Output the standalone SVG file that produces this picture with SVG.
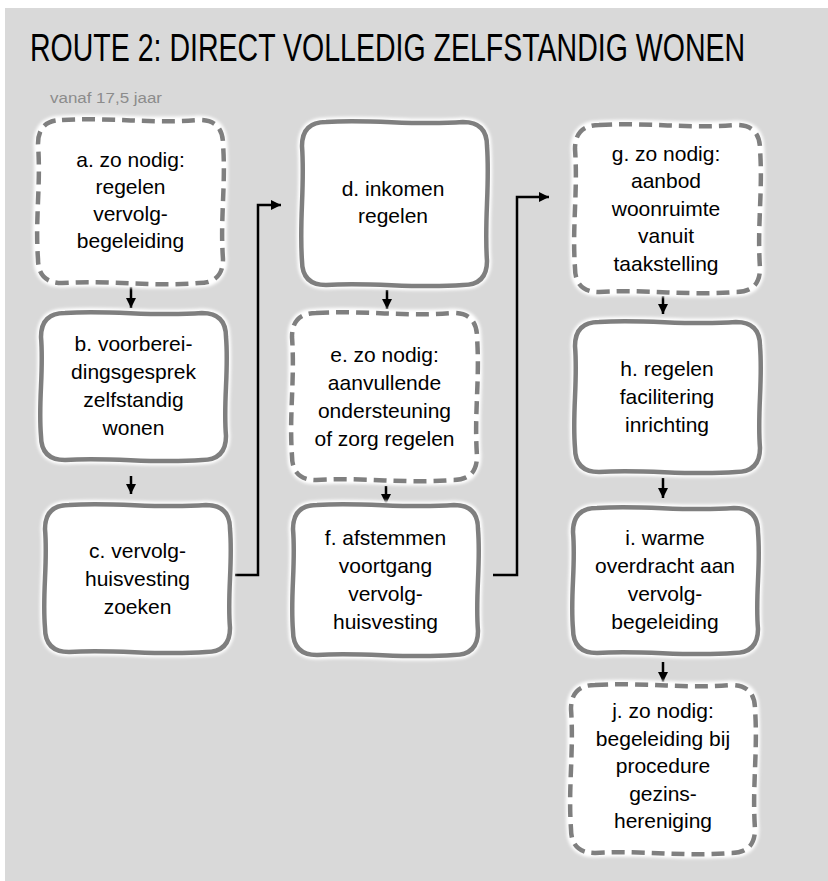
<svg xmlns="http://www.w3.org/2000/svg" xmlns:xlink="http://www.w3.org/1999/xlink" width="828" height="881" viewBox="0 0 828 881">
<style>
.bg{fill:#d9d9d9}
.halo{fill:#ffffff;stroke:#ffffff;stroke-width:9;filter:url(#blur)}
.solid{fill:#ffffff;stroke:#7f7f7f;stroke-width:4.5;stroke-linejoin:round}
.dashed{fill:#ffffff;stroke:#7f7f7f;stroke-width:4.5;stroke-dasharray:13 7;stroke-linejoin:round}
.lbl{font-family:"Liberation Sans",Arial,sans-serif;font-size:21px;fill:#000000;text-anchor:middle}
.title{font-family:"Liberation Sans",Arial,sans-serif;font-size:39px;fill:#000000}
.sub{font-family:"Liberation Sans",Arial,sans-serif;font-size:14px;fill:#8c8c8c}
.conn{fill:none;stroke:#000000;stroke-width:2.5}
</style>
<defs>
<filter id="blur" x="-10%" y="-10%" width="120%" height="120%"><feGaussianBlur stdDeviation="1.5"/></filter>
<marker id="ah" markerUnits="userSpaceOnUse" markerWidth="11" markerHeight="11" refX="10" refY="5" orient="auto">
<path d="M0,0 L10,5 L0,10 Z" fill="#000000"/>
</marker>
<path id="s163" d="M24,0 C74,-3 111,4 161,0 Q185,0 185,24 C188,65 182,98 185,139 Q185,163 161,163 C111,167 74,160 24,163 Q0,163 0,139 C-3,98 3,65 0,24 Q0,0 24,0 Z"/>
<path id="s147" d="M24,0 C74,-3 111,4 161,0 Q185,0 185,24 C188,59 182,88 185,123 Q185,147 161,147 C111,151 74,144 24,147 Q0,147 0,123 C-3,88 3,59 0,24 Q0,0 24,0 Z"/>
<path id="s167" d="M24,0 C74,-3 111,4 161,0 Q185,0 185,24 C188,67 182,100 185,143 Q185,167 161,167 C111,171 74,164 24,167 Q0,167 0,143 C-3,100 3,67 0,24 Q0,0 24,0 Z"/>
<path id="s150" d="M24,0 C74,-3 111,4 161,0 Q185,0 185,24 C188,60 182,90 185,126 Q185,150 161,150 C111,154 74,147 24,150 Q0,150 0,126 C-3,90 3,60 0,24 Q0,0 24,0 Z"/>
<path id="s145" d="M24,0 C74,-3 111,4 161,0 Q185,0 185,24 C188,58 182,87 185,121 Q185,145 161,145 C111,149 74,142 24,145 Q0,145 0,121 C-3,87 3,58 0,24 Q0,0 24,0 Z"/>
<path id="s168" d="M24,0 C74,-3 111,4 160,0 Q184,0 184,24 C187,67 181,101 184,144 Q184,168 160,168 C111,172 74,165 24,168 Q0,168 0,144 C-3,101 3,67 0,24 Q0,0 24,0 Z"/>
</defs>
<rect class="bg" x="5" y="8" width="823" height="873"/>
<text class="title" transform="translate(30,61) scale(0.7314,1)" x="0" y="0">ROUTE 2: DIRECT VOLLEDIG ZELFSTANDIG WONEN</text>
<text class="sub" x="50" y="103" textLength="112" lengthAdjust="spacingAndGlyphs">vanaf 17,5 jaar</text>

<g id="connectors">
<line class="conn" x1="131" y1="287" x2="131" y2="308" marker-end="url(#ah)"/>
<line class="conn" x1="131" y1="476" x2="131" y2="494" marker-end="url(#ah)"/>
<line class="conn" x1="387" y1="290" x2="387" y2="309" marker-end="url(#ah)"/>
<line class="conn" x1="386" y1="486" x2="386" y2="504" marker-end="url(#ah)"/>
<line class="conn" x1="663" y1="296" x2="663" y2="314" marker-end="url(#ah)"/>
<line class="conn" x1="663" y1="478" x2="663" y2="498" marker-end="url(#ah)"/>
<line class="conn" x1="663" y1="662" x2="663" y2="682" marker-end="url(#ah)"/>
<path class="conn" d="M235,575 H258 V205 H281" marker-end="url(#ah)"/>
<path class="conn" d="M493,575 H517 V197 H549" marker-end="url(#ah)"/>
</g>

<g id="node-a">
<use xlink:href="#s163" x="38" y="120" class="halo"/>
<use xlink:href="#s163" x="38" y="120" class="dashed"/>
<text class="lbl" x="130.5" y="167">a. zo nodig:</text>
<text class="lbl" x="130.5" y="194">regelen</text>
<text class="lbl" x="130.5" y="221">vervolg-</text>
<text class="lbl" x="130.5" y="248">begeleiding</text>
</g>
<g id="node-b">
<use xlink:href="#s147" x="41" y="313" class="halo"/>
<use xlink:href="#s147" x="41" y="313" class="solid"/>
<text class="lbl" x="133.5" y="351">b. voorberei-</text>
<text class="lbl" x="133.5" y="379">dingsgesprek</text>
<text class="lbl" x="133.5" y="407">zelfstandig</text>
<text class="lbl" x="133.5" y="435">wonen</text>
</g>
<g id="node-c">
<use xlink:href="#s147" x="45" y="505" class="halo"/>
<use xlink:href="#s147" x="45" y="505" class="solid"/>
<text class="lbl" x="137.5" y="558">c. vervolg-</text>
<text class="lbl" x="137.5" y="586">huisvesting</text>
<text class="lbl" x="137.5" y="614">zoeken</text>
</g>
<g id="node-d">
<use xlink:href="#s163" x="302" y="122" class="halo"/>
<use xlink:href="#s163" x="302" y="122" class="solid"/>
<text class="lbl" x="393" y="196">d. inkomen</text>
<text class="lbl" x="393" y="223">regelen</text>
</g>
<g id="node-e">
<use xlink:href="#s167" x="292" y="313" class="halo"/>
<use xlink:href="#s167" x="292" y="313" class="dashed"/>
<text class="lbl" x="384.5" y="362">e. zo nodig:</text>
<text class="lbl" x="384.5" y="390">aanvullende</text>
<text class="lbl" x="384.5" y="418">ondersteuning</text>
<text class="lbl" x="384.5" y="446">of zorg regelen</text>
</g>
<g id="node-f">
<use xlink:href="#s150" x="293" y="505" class="halo"/>
<use xlink:href="#s150" x="293" y="505" class="solid"/>
<text class="lbl" x="385.5" y="545">f. afstemmen</text>
<text class="lbl" x="385.5" y="573">voortgang</text>
<text class="lbl" x="385.5" y="601">vervolg-</text>
<text class="lbl" x="385.5" y="629">huisvesting</text>
</g>
<g id="node-g">
<use xlink:href="#s167" x="575" y="125" class="halo"/>
<use xlink:href="#s167" x="575" y="125" class="dashed"/>
<text class="lbl" x="666" y="161">g. zo nodig:</text>
<text class="lbl" x="666" y="188">aanbod</text>
<text class="lbl" x="666" y="216">woonruimte</text>
<text class="lbl" x="666" y="243">vanuit</text>
<text class="lbl" x="666" y="271">taakstelling</text>
</g>
<g id="node-h">
<use xlink:href="#s150" x="575" y="322" class="halo"/>
<use xlink:href="#s150" x="575" y="322" class="solid"/>
<text class="lbl" x="667" y="376">h. regelen</text>
<text class="lbl" x="667" y="404">facilitering</text>
<text class="lbl" x="667" y="432">inrichting</text>
</g>
<g id="node-i">
<use xlink:href="#s145" x="573" y="508" class="halo"/>
<use xlink:href="#s145" x="573" y="508" class="solid"/>
<text class="lbl" x="665" y="545">i. warme</text>
<text class="lbl" x="665" y="573">overdracht aan</text>
<text class="lbl" x="665" y="601">vervolg-</text>
<text class="lbl" x="665" y="629">begeleiding</text>
</g>
<g id="node-j">
<use xlink:href="#s168" x="571" y="685" class="halo"/>
<use xlink:href="#s168" x="571" y="685" class="dashed"/>
<text class="lbl" x="663" y="718">j. zo nodig:</text>
<text class="lbl" x="663" y="746">begeleiding bij</text>
<text class="lbl" x="663" y="773">procedure</text>
<text class="lbl" x="663" y="801">gezins-</text>
<text class="lbl" x="663" y="828">hereniging</text>
</g>
</svg>
